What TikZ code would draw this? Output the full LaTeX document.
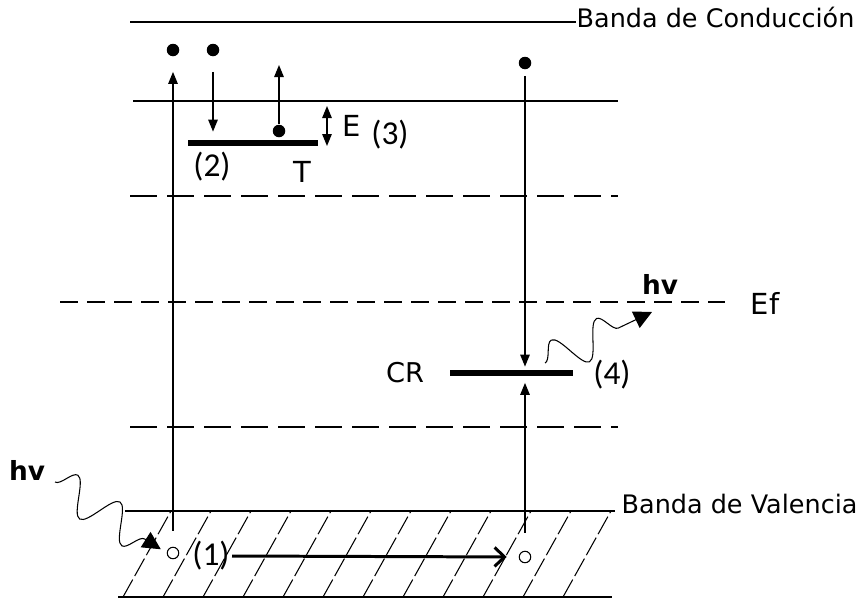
\documentclass[tikz,border=0pt]{standalone}
\usepackage{fontspec}
\setmainfont{DejaVu Sans}
\newfontfamily\numfont{Carlito}
\usetikzlibrary{arrows.meta,decorations.pathmorphing}

\begin{document}
\begin{tikzpicture}[x=0.2mm,y=-0.2mm,line width=0.75pt,
  every node/.style={font=\fontsize{14.5}{16}\selectfont},
  big/.style={font=\fontsize{16.5}{18}\selectfont},
  num/.style={font=\numfont\fontsize{19}{21}\selectfont,inner sep=1pt},
  elec/.style={circle,fill,inner sep=0pt,minimum size=2.5mm},
  hole/.style={circle,draw,fill=white,inner sep=0pt,minimum size=2.3mm,line width=0.6pt},
  lvl/.style={fill,inner sep=0pt,minimum height=1.1mm},
  pil/.style={-{Triangle[length=2.4mm,width=1.9mm]}},
  dpil/.style={{Triangle[length=2.4mm,width=1.9mm]}-{Triangle[length=2.4mm,width=1.9mm]}},
  gap/.style={dash pattern=on 5.4mm off 2mm},
  photon/.style={decorate,decoration={snake,amplitude=3.6mm,segment length=10mm,post length=3mm},
    line width=0.6pt,-{Triangle[length=3.6mm,width=3.6mm]}}]
  \useasboundingbox (0,0) rectangle (867,601);
  % bandas
  \foreach \x in {123,163,...,563}{\draw[line width=0.6pt,dash pattern=on 4mm off 0.8mm] (\x,597) -- (\x+48,511);}
  \draw (130,22) -- (576,22);
  \node[anchor=base west,inner sep=0pt] (bc) at (576,27) {Banda de Conducción};
  \draw (133,101) -- (618,101);
  \draw[gap] (130,196) -- (618,196);
  \draw[dash pattern=on 3.6mm off 1.8mm] (60,302) -- (725,302);
  \node[big] (ef) at (765,303) {Ef};
  \draw[gap] (130,427) -- (618,427);
  \draw (125,511) -- (615,511);
  \draw (118,597) -- (612,597);
  \node[anchor=base west,inner sep=0pt] (bv) at (621,513) {Banda de Valencia};
  % niveles y portadores
  \node[lvl,minimum width=26mm] (T) at (253,143) {};
  \node[lvl,minimum width=24.6mm] (CR) at (511,373) {};
  \node[elec] (e1) at (173,50) {};
  \node[elec] (e2) at (213,50) {};
  \node[elec] (e3) at (525,63) {};
  \node[elec] (et) at (279,131) {};
  \node[hole] (h1) at (173,553) {};
  \node[hole] (h2) at (525,557) {};
  \coordinate (up3) at (279,65);
  \coordinate (E1) at (327,106);
  \coordinate (E2) at (327,146);
  \coordinate (p1) at (55,482);
  \coordinate (p2) at (545,363);
  \coordinate (p3) at (652,312);
  % etiquetas
  \node[num] (n1) at (211,556) {(1)};
  \node[num] (n2) at (212,167) {(2)};
  \node[num] (n3) at (390,135) {(3)};
  \node[num] (n4) at (612,375) {(4)};
  \node[big] (tl) at (302,172) {T};
  \node[big] (el) at (352,126) {E};
  \node[font=\fontsize{15.5}{17}\selectfont] (crl) at (405,373) {CR};
  \node[font=\bfseries\fontsize{15}{17}\selectfont] (hv1) at (27,470) {hv};
  \node[font=\bfseries\fontsize{15}{17}\selectfont] (hv2) at (660,284) {hv};
  % transiciones
  \draw[pil,shorten <=3.2mm,shorten >=3mm] (h1) -- (e1);
  \draw[pil,shorten <=3mm,shorten >=1.6mm] (e2) -- (T.north -| e2);
  \draw[pil] (et) -- (up3);
  \draw[dpil] (E1) -- (E2);
  \draw[pil,shorten <=1.2mm,shorten >=0.6mm] (e3) -- (CR.north -| e3);
  \draw[pil,shorten <=3.6mm,shorten >=1.3mm] (h2) -- (CR.south -| h2);
  \draw[line width=1.7pt,-{Straight Barb[length=2mm,width=3.8mm]},shorten >=2.4mm] (n1.east) -- (h2.west);
  \draw[photon,shorten >=1.4mm] (p1) -- (h1.west);
  \draw[photon] (p2) -- (p3);
\end{tikzpicture}
\end{document}
